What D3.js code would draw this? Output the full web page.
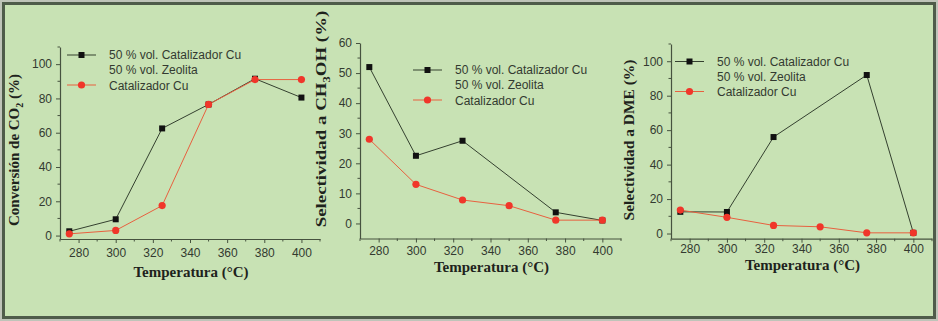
<!DOCTYPE html>
<html>
<head>
<meta charset="utf-8">
<script src="https://cdn.jsdelivr.net/npm/d3@7"></script>
<style>
  body { margin: 0; background: #bfc4b9; }
  svg { display: block; }
</style>
</head>
<body>
<svg id="chart" width="938" height="321"></svg>
<script>
// temperatures (°C)
const temps = [275, 300, 325, 350, 375, 400];

// conversión de CO2 (%)
const convMix = [2.5, 9.5, 62.5, 76.5, 91.5, 80.5];
const convCu = [1, 3, 17.5, 76.5, 91, 91];

// selectividad a CH3OH (%)
const meohMix = [52, 22.5, 27.5, 16, 3.7, 1];
const meohCu = [28, 13, 7.8, 5.9, 1.1, 1.1];

// selectividad a DME (%)
const dmeMix = [12.6, 12.5, 56, 74, 92, 0.4];
const dmeCu = [13.6, 9.4, 4.7, 3.9, 0.4, 0.4];

const xTicks = [280, 300, 320, 340, 360, 380, 400];
const convTicks = [0, 20, 40, 60, 80, 100];
const meohTicks = [0, 10, 20, 30, 40, 50, 60];
const dmeTicks = [0, 20, 40, 60, 80, 100];

const legendLabels = ['50 % vol. Catalizador Cu', '50 % vol. Zeolita', 'Catalizador Cu'];

const svg = d3.select('#chart');

// background and frame
svg.append('rect')
  .attr('x', 2).attr('y', 2)
  .attr('width', 934).attr('height', 317)
  .attr('fill', '#c8e2b4');
svg.append('rect')
  .attr('x', 3.5).attr('y', 3.5)
  .attr('width', 931).attr('height', 314)
  .attr('fill', 'none')
  .attr('stroke', '#4f5c4a')
  .attr('stroke-width', 3);

const axisColor = '#46523f';
const textColor = '#333a30';
const mixLine = '#34402f';
const cuLine = '#e8603f';
const cuDot = '#f0362a';

const panels = [
  {
    left: 60, right: 320, top: 47, bottom: 239,
    yDomain: [-2, 110], yTicks: convTicks, yMinor: 10, tickPad: 5,
    mix: temps.map((t, i) => [t, convMix[i]]),
    cu: temps.map((t, i) => [t, convCu[i]]),
    legend: { x: 67, y: 55 },
    title: [['Conversión de CO', 0], ['2', 1], [' (%)', 0]],
    titleX: 19, titleY: 150, stretch: 1,
    xTitleY: 277
  },
  {
    left: 360, right: 621, top: 43, bottom: 238.5,
    yDomain: [-5, 60], yTicks: meohTicks, yMinor: 5, tickPad: 3.5,
    // the mixed bed was not measured at 350 °C
    mix: temps.map((t, i) => [t, meohMix[i]]).filter(d => d[0] !== 350),
    cu: temps.map((t, i) => [t, meohCu[i]]),
    legend: { x: 413, y: 70 },
    title: [['Selectividad a CH', 0], ['3', 1], ['OH (%)', 0]],
    titleX: 326, titleY: 119, stretch: 1.26,
    xTitleY: 272
  },
  {
    left: 671, right: 932, top: 44, bottom: 238.7,
    yDomain: [-3, 110], yTicks: dmeTicks, yMinor: 10, tickPad: 2,
    mix: temps.map((t, i) => [t, dmeMix[i]]).filter(d => d[0] !== 350),
    cu: temps.map((t, i) => [t, dmeCu[i]]),
    legend: { x: 675, y: 61.5 },
    title: [['Selectividad a DME (%)', 0]],
    titleX: 634, titleY: 140, stretch: 1.03,
    xTitleY: 270
  }
];

panels.forEach(function(p) {
  const x = d3.scaleLinear().domain([270, 410]).range([p.left, p.right]);
  const y = d3.scaleLinear().domain(p.yDomain).range([p.bottom, p.top]);
  const g = svg.append('g');

  // minor ticks
  const xMinor = d3.range(270, 411, 10).filter(v => xTicks.indexOf(v) < 0);
  g.selectAll('line.xminor').data(xMinor).enter().append('line')
    .attr('x1', d => x(d)).attr('x2', d => x(d))
    .attr('y1', p.bottom).attr('y2', p.bottom + 2.5)
    .attr('stroke', axisColor).attr('stroke-width', 1);
  const yMinorVals = d3.range(0, p.yDomain[1] + 0.01, p.yMinor).filter(v => p.yTicks.indexOf(v) < 0);
  g.selectAll('line.yminor').data(yMinorVals).enter().append('line')
    .attr('x1', p.left - 2.5).attr('x2', p.left)
    .attr('y1', d => y(d)).attr('y2', d => y(d))
    .attr('stroke', axisColor).attr('stroke-width', 1);

  const xAxis = g.append('g')
    .attr('transform', 'translate(0,' + p.bottom + ')')
    .call(d3.axisBottom(x).tickValues(xTicks).tickSize(4).tickPadding(p.tickPad).tickSizeOuter(0));
  const yAxis = g.append('g')
    .attr('transform', 'translate(' + p.left + ',0)')
    .call(d3.axisLeft(y).tickValues(p.yTicks).tickSize(4).tickPadding(4).tickSizeOuter(0));
  [xAxis, yAxis].forEach(function(a) {
    a.select('.domain').attr('stroke', axisColor).attr('stroke-width', 1.2);
    a.selectAll('.tick line').attr('stroke', axisColor);
    a.selectAll('.tick text')
      .attr('fill', textColor)
      .style('font-family', 'Liberation Sans, Arial, sans-serif')
      .style('font-size', '12px');
  });

  const line = d3.line().x(d => x(d[0])).y(d => y(d[1]));

  g.append('path').datum(p.mix)
    .attr('d', line).attr('fill', 'none')
    .attr('stroke', mixLine).attr('stroke-width', 1);
  g.append('path').datum(p.cu)
    .attr('d', line).attr('fill', 'none')
    .attr('stroke', cuLine).attr('stroke-width', 1);

  g.selectAll('rect.mix').data(p.mix).enter().append('rect')
    .attr('x', d => x(d[0]) - 3).attr('y', d => y(d[1]) - 3)
    .attr('width', 6).attr('height', 6)
    .attr('fill', '#111');
  g.selectAll('circle.cu').data(p.cu).enter().append('circle')
    .attr('cx', d => x(d[0])).attr('cy', d => y(d[1]))
    .attr('r', 3.6)
    .attr('fill', cuDot);

  // legend
  const lg = g.append('g').attr('transform', 'translate(' + p.legend.x + ',' + p.legend.y + ')');
  lg.append('line').attr('x1', 0).attr('x2', 29).attr('y1', 0).attr('y2', 0)
    .attr('stroke', mixLine).attr('stroke-width', 1);
  lg.append('rect').attr('x', 11.5).attr('y', -3).attr('width', 6).attr('height', 6).attr('fill', '#111');
  lg.append('line').attr('x1', 0).attr('x2', 29).attr('y1', 30).attr('y2', 30)
    .attr('stroke', cuLine).attr('stroke-width', 1);
  lg.append('circle').attr('cx', 14.5).attr('cy', 30).attr('r', 3.6).attr('fill', cuDot);
  lg.selectAll('text').data(legendLabels).enter().append('text')
    .attr('x', 42).attr('y', (d, i) => i * 15.2)
    .attr('dy', '0.35em')
    .attr('fill', textColor)
    .style('font-family', 'Liberation Sans, Arial, sans-serif')
    .style('font-size', '12px')
    .text(d => d);

  // axis titles
  const yt = svg.append('text')
    .attr('transform', 'translate(' + p.titleX + ',' + p.titleY + ') rotate(-90) scale(' + p.stretch + ',1)')
    .attr('text-anchor', 'middle')
    .attr('dy', '0.35em')
    .attr('fill', '#1e231c')
    .style('font-family', 'Liberation Serif, Times New Roman, serif')
    .style('font-weight', 'bold')
    .style('font-size', '15px');
  let shift = 0;
  p.title.forEach(function(part) {
    const dy = part[1] ? 4 - shift : -shift;
    shift = part[1] ? 4 : 0;
    yt.append('tspan')
      .attr('dy', dy)
      .style('font-size', part[1] ? '10px' : '15px')
      .text(part[0]);
  });

  svg.append('text')
    .attr('x', (p.left + p.right) / 2 + 1)
    .attr('y', p.xTitleY)
    .attr('text-anchor', 'middle')
    .attr('fill', '#1e231c')
    .style('font-family', 'Liberation Serif, Times New Roman, serif')
    .style('font-weight', 'bold')
    .style('font-size', '15px')
    .text('Temperatura (°C)');
});
</script>
</body>
</html>
